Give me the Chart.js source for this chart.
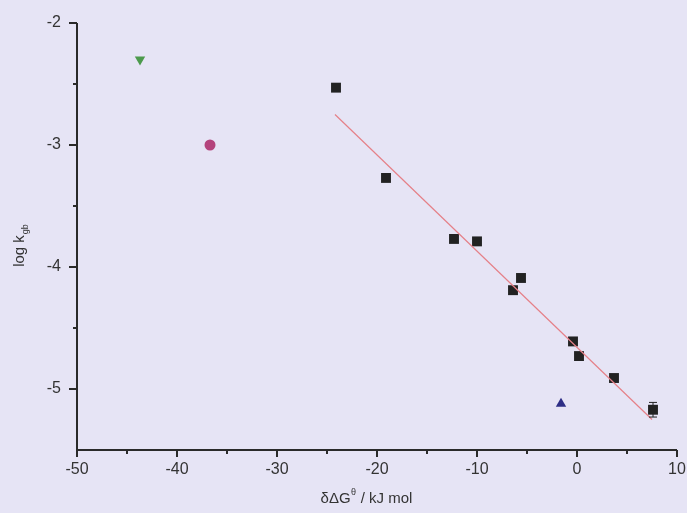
<!DOCTYPE html>
<html>
<head>
<meta charset="utf-8">
<script src="https://cdn.jsdelivr.net/npm/chart.js@4/dist/chart.umd.min.js"></script>
<style>
html,body{margin:0;padding:0;background:#e6e4f5;}
#wrap{width:687px;height:513px;position:relative;}
</style>
</head>
<body>
<div id="wrap"><canvas id="c" width="687" height="513"></canvas></div>
<script>
// Data
const squareX = [-24.1, -19.1, -12.3, -10.0, -6.4, -5.6, -0.4, 0.2, 3.7, 7.6];
const squareY = [-2.53, -3.27, -3.77, -3.79, -4.19, -4.09, -4.61, -4.73, -4.91, -5.17];
const squareErr = [0, 0, 0, 0, 0, 0, 0, 0, 0, 0.06];
const greenX = [-43.7];
const greenY = [-2.30];
const magentaX = [-36.7];
const magentaY = [-3.00];
const blueX = [-1.6];
const blueY = [-5.12];
const fitX = [-24.2, 7.5];
const fitY = [-2.75, -5.25];
const xTicks = [-50, -40, -30, -20, -10, 0, 10];
const yTicks = [-5, -4, -3, -2];

const pts = (xs, ys) => xs.map((x, i) => ({x: x, y: ys[i]}));

const FONT = '"Liberation Sans", Arial, sans-serif';

const axesPlugin = {
  id: 'axesPlugin',
  afterDatasetsDraw(chart) {
    const ctx = chart.ctx;
    const xs = chart.scales.x, ys = chart.scales.y;
    const a = chart.chartArea;
    ctx.save();
    // error bars
    ctx.strokeStyle = '#222';
    ctx.lineWidth = 1;
    squareX.forEach((x, i) => {
      if (!squareErr[i]) return;
      const px = xs.getPixelForValue(x);
      const p1 = ys.getPixelForValue(squareY[i] + squareErr[i]);
      const p2 = ys.getPixelForValue(squareY[i] - squareErr[i]);
      ctx.beginPath();
      ctx.moveTo(px, p1); ctx.lineTo(px, p2);
      ctx.moveTo(px - 4, p1); ctx.lineTo(px + 4, p1);
      ctx.moveTo(px - 4, p2); ctx.lineTo(px + 4, p2);
      ctx.stroke();
    });
    // axes lines
    ctx.strokeStyle = '#2a2a2a';
    ctx.lineWidth = 2;
    ctx.beginPath();
    ctx.moveTo(a.left, a.top);
    ctx.lineTo(a.left, a.bottom);
    ctx.lineTo(a.right, a.bottom);
    ctx.stroke();
    // ticks
    ctx.beginPath();
    for (let v = -50; v <= 10; v += 5) {
      const px = xs.getPixelForValue(v);
      const len = (v % 10 === 0) ? 7 : 4;
      ctx.moveTo(px, a.bottom); ctx.lineTo(px, a.bottom + len);
    }
    for (let v = -5; v <= -2; v += 0.5) {
      const py = ys.getPixelForValue(v);
      const len = (Math.abs(v - Math.round(v)) < 1e-6) ? 8 : 4;
      ctx.moveTo(a.left, py); ctx.lineTo(a.left - len, py);
    }
    ctx.stroke();
    // tick labels
    ctx.fillStyle = '#333';
    ctx.font = '16px ' + FONT;
    ctx.textAlign = 'center';
    ctx.textBaseline = 'top';
    xTicks.forEach(v => ctx.fillText(String(v), xs.getPixelForValue(v), a.bottom + 12));
    ctx.textAlign = 'right';
    ctx.textBaseline = 'middle';
    yTicks.forEach(v => ctx.fillText(String(v), a.left - 16, ys.getPixelForValue(v)));
    // x title
    ctx.textAlign = 'left';
    ctx.textBaseline = 'alphabetic';
    const p1 = 'δΔG', sup = 'θ', p2 = ' / kJ mol';
    ctx.font = '15px ' + FONT;
    const w1 = ctx.measureText(p1).width;
    const w3 = ctx.measureText(p2).width;
    ctx.font = '9px ' + FONT;
    const w2 = ctx.measureText(sup).width;
    const sx = 366 - (w1 + w2 + w3) / 2;
    const by = 503;
    ctx.font = '15px ' + FONT;
    ctx.fillText(p1, sx, by);
    ctx.font = '9px ' + FONT;
    ctx.fillText(sup, sx + w1 + 0.5, by - 8);
    ctx.font = '15px ' + FONT;
    ctx.fillText(p2, sx + w1 + w2 + 1, by);
    // y title rotated
    ctx.save();
    ctx.translate(24, 246);
    ctx.rotate(-Math.PI / 2);
    ctx.font = '15px ' + FONT;
    const t1 = 'log k', t2 = 'gb';
    const tw1 = ctx.measureText(t1).width;
    ctx.font = '9px ' + FONT;
    const tw2 = ctx.measureText(t2).width;
    const tx = -(tw1 + tw2) / 2;
    ctx.font = '15px ' + FONT;
    ctx.fillText(t1, tx, 0);
    ctx.font = '9px ' + FONT;
    ctx.fillText(t2, tx + tw1 + 1, 4);
    ctx.restore();
    ctx.restore();
  }
};

new Chart(document.getElementById('c'), {
  type: 'scatter',
  data: {
    datasets: [
      {
        type: 'line',
        data: pts(fitX, fitY),
        borderColor: '#e58088',
        borderWidth: 1.2,
        pointRadius: 0,
        fill: false
      },
      {
        data: pts(squareX, squareY),
        pointStyle: 'rect',
        pointRadius: 7,
        backgroundColor: '#222',
        borderColor: '#222',
        borderWidth: 0
      },
      {
        data: pts(greenX, greenY),
        pointStyle: 'triangle',
        rotation: 180,
        pointRadius: 6,
        backgroundColor: '#4c9a4c',
        borderColor: '#4c9a4c',
        borderWidth: 0
      },
      {
        data: pts(magentaX, magentaY),
        pointStyle: 'circle',
        pointRadius: 5.5,
        backgroundColor: '#b4437c',
        borderColor: '#b4437c',
        borderWidth: 0
      },
      {
        data: pts(blueX, blueY),
        pointStyle: 'triangle',
        pointRadius: 6,
        backgroundColor: '#2e2e86',
        borderColor: '#2e2e86',
        borderWidth: 0
      }
    ]
  },
  options: {
    responsive: false,
    animation: false,
    events: [],
    layout: {padding: {top: 23, right: 10, left: 0, bottom: 0}},
    plugins: {legend: {display: false}, tooltip: {enabled: false}},
    scales: {
      x: {
        type: 'linear', min: -50, max: 10,
        grid: {display: false},
        border: {display: false},
        ticks: {display: false},
        afterFit(s) { s.height = 63; }
      },
      y: {
        type: 'linear', min: -5.5, max: -2,
        grid: {display: false},
        border: {display: false},
        ticks: {display: false},
        afterFit(s) { s.width = 77; }
      }
    }
  },
  plugins: [axesPlugin]
});
</script>
</body>
</html>
